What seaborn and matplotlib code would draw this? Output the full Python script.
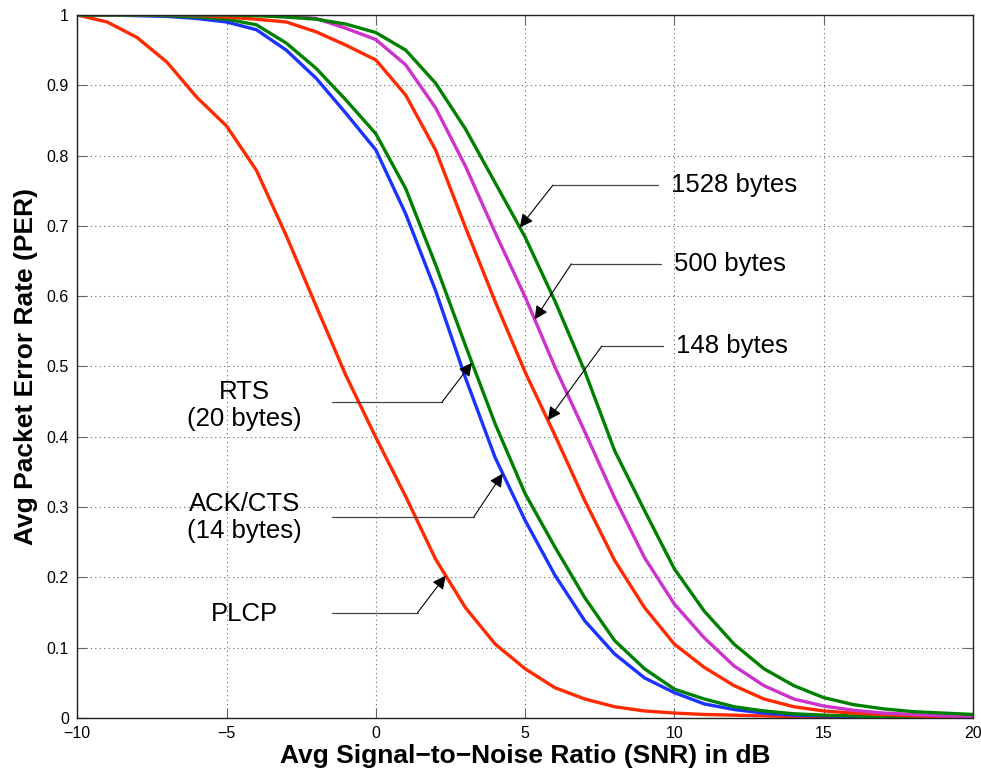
"""
PER vs SNR for 802.11 frame types (PLCP, ACK/CTS, RTS, 148/500/1528 byte data).
Writes out.png
"""

import numpy as np
import pandas as pd
import matplotlib
matplotlib.use("Agg")
import matplotlib.pyplot as plt
import seaborn as sns

# ── Data ──────────────────────────────────────────────────────────────────────
SNR_DB = list(range(-10, 21))

PER_PLCP = [1.000, 0.990, 0.968, 0.933, 0.883, 0.842, 0.779, 0.686, 0.586, 0.487,
            0.399, 0.315, 0.226, 0.157, 0.105, 0.070, 0.043, 0.027, 0.016, 0.010,
            0.007, 0.005, 0.004, 0.003, 0.002, 0.0015, 0.001, 0.001, 0.0008, 0.0006,
            0.0005]
PER_ACK = [1.000, 1.000, 0.999, 0.998, 0.995, 0.990, 0.979, 0.950, 0.910, 0.860,
           0.808, 0.717, 0.608, 0.484, 0.370, 0.281, 0.203, 0.138, 0.091, 0.057,
           0.036, 0.020, 0.012, 0.007, 0.004, 0.003, 0.002, 0.0015, 0.001, 0.001,
           0.001]
PER_RTS = [1.000, 1.000, 1.000, 0.999, 0.997, 0.994, 0.986, 0.960, 0.924, 0.879,
           0.831, 0.753, 0.645, 0.530, 0.418, 0.319, 0.243, 0.171, 0.110, 0.070,
           0.041, 0.027, 0.016, 0.010, 0.006, 0.004, 0.003, 0.002, 0.0015, 0.001,
           0.001]
PER_148 = [1.000, 1.000, 1.000, 1.000, 0.999, 0.997, 0.994, 0.990, 0.976, 0.957,
           0.936, 0.886, 0.808, 0.698, 0.592, 0.492, 0.402, 0.309, 0.224, 0.157,
           0.105, 0.072, 0.046, 0.027, 0.016, 0.010, 0.007, 0.005, 0.003, 0.002,
           0.0015]
PER_500 = [1.000, 1.000, 1.000, 1.000, 1.000, 1.000, 1.000, 0.999, 0.995, 0.981,
           0.965, 0.929, 0.868, 0.785, 0.690, 0.599, 0.499, 0.407, 0.313, 0.228,
           0.162, 0.114, 0.074, 0.046, 0.027, 0.017, 0.011, 0.007, 0.005, 0.003,
           0.002]
PER_1528 = [1.000, 1.000, 1.000, 1.000, 1.000, 1.000, 0.999, 0.997, 0.994, 0.987,
            0.975, 0.950, 0.903, 0.838, 0.761, 0.684, 0.593, 0.493, 0.380, 0.295,
            0.212, 0.152, 0.105, 0.070, 0.046, 0.029, 0.019, 0.013, 0.009, 0.007,
            0.005]

SERIES = {
    "PLCP":    PER_PLCP,
    "ACK/CTS": PER_ACK,
    "RTS":     PER_RTS,
    "148":     PER_148,
    "500":     PER_500,
    "1528":    PER_1528,
}
COLORS = {
    "PLCP":    "#ff2a00",
    "ACK/CTS": "#1a33ff",
    "RTS":     "#008000",
    "148":     "#ff2a00",
    "500":     "#cc33cc",
    "1528":    "#008000",
}

df = pd.concat(
    [pd.DataFrame({"snr": SNR_DB, "per": v, "frame": k}) for k, v in SERIES.items()],
    ignore_index=True,
)

# ── Style ─────────────────────────────────────────────────────────────────────
sns.set_theme(style="ticks")
plt.rcParams["font.family"] = ["Liberation Sans", "DejaVu Sans"]
plt.rcParams.update({"text.color": "black", "axes.labelcolor": "black"})

fig = plt.figure(figsize=(9.81, 7.8), dpi=100)
ax = fig.add_axes([0.0788, 0.0795, 0.9130, 0.9013])

sns.lineplot(data=df, x="snr", y="per", hue="frame", palette=COLORS,
             linewidth=2.4, legend=False, ax=ax)

ax.set_xlim(-10, 20)
ax.set_ylim(0, 1)
ax.set_xticks(np.arange(-10, 21, 5))
ax.set_yticks(np.round(np.arange(0, 1.01, 0.1), 1))
ax.set_yticklabels(["0"] + [f"{t:.1f}" for t in np.arange(0.1, 0.95, 0.1)] + ["1"])
ax.grid(True, linestyle=(0, (1, 3)), color="#666666", linewidth=0.8)
ax.tick_params(direction="in", length=7, width=0.8, top=True, right=True,
               labelsize=11.5, color="#666666", labelcolor="black", pad=6)
for sp in ax.spines.values():
    sp.set_color("#222222")
    sp.set_linewidth(1.0)

ax.set_xlabel("Avg Signal\u2212to\u2212Noise Ratio (SNR) in dB",
              fontsize=19, fontweight="bold", labelpad=2)
ax.set_ylabel("Avg Packet Error Rate (PER)", fontsize=19, fontweight="bold",
              labelpad=6)

# ── Callouts ──────────────────────────────────────────────────────────────────
arrow_kw = dict(arrowstyle="-|>", color="black", lw=0.8, mutation_scale=20,
                shrinkA=0, shrinkB=0)
line_kw = dict(color="#444444", lw=0.9)

# right-hand labels: (series, tip x, elbow x, elbow y, line end x, text)
right_calls = [
    ("1528", 4.82, 5.93, 0.758, 9.45, "1528 bytes"),
    ("500",  5.32, 6.55, 0.646, 9.55, "500 bytes"),
    ("148",  5.76, 7.57, 0.529, 9.62, "148 bytes"),
]
for key, tx, ex, ey, lx, label in right_calls:
    ty = np.interp(tx, SNR_DB, SERIES[key])
    ax.plot([ex, lx], [ey, ey], **line_kw)
    ax.annotate("", xy=(tx, ty), xytext=(ex, ey), arrowprops=arrow_kw)
    ax.text(lx + 0.45, ey, label, fontsize=18.5, va="center", ha="left")

# left-hand labels: (series, tip x, elbow x, elbow y, text y, text)
left_calls = [
    ("RTS",     3.22, 2.21, 0.449, 0.444, "RTS\n(20 bytes)"),
    ("ACK/CTS", 4.25, 3.28, 0.286, 0.285, "ACK/CTS\n(14 bytes)"),
    ("PLCP",    2.34, 1.40, 0.150, 0.148, "PLCP"),
]
for key, tx, ex, ey, txt_y, label in left_calls:
    ty = np.interp(tx, SNR_DB, SERIES[key])
    ax.plot([-1.48, ex], [ey, ey], **line_kw)
    ax.annotate("", xy=(tx, ty), xytext=(ex, ey), arrowprops=arrow_kw)
    ax.text(-4.4, txt_y, label, fontsize=18.5, va="center", ha="center",
            linespacing=1.15)

fig.savefig("out.png", dpi=100)
plt.close(fig)
